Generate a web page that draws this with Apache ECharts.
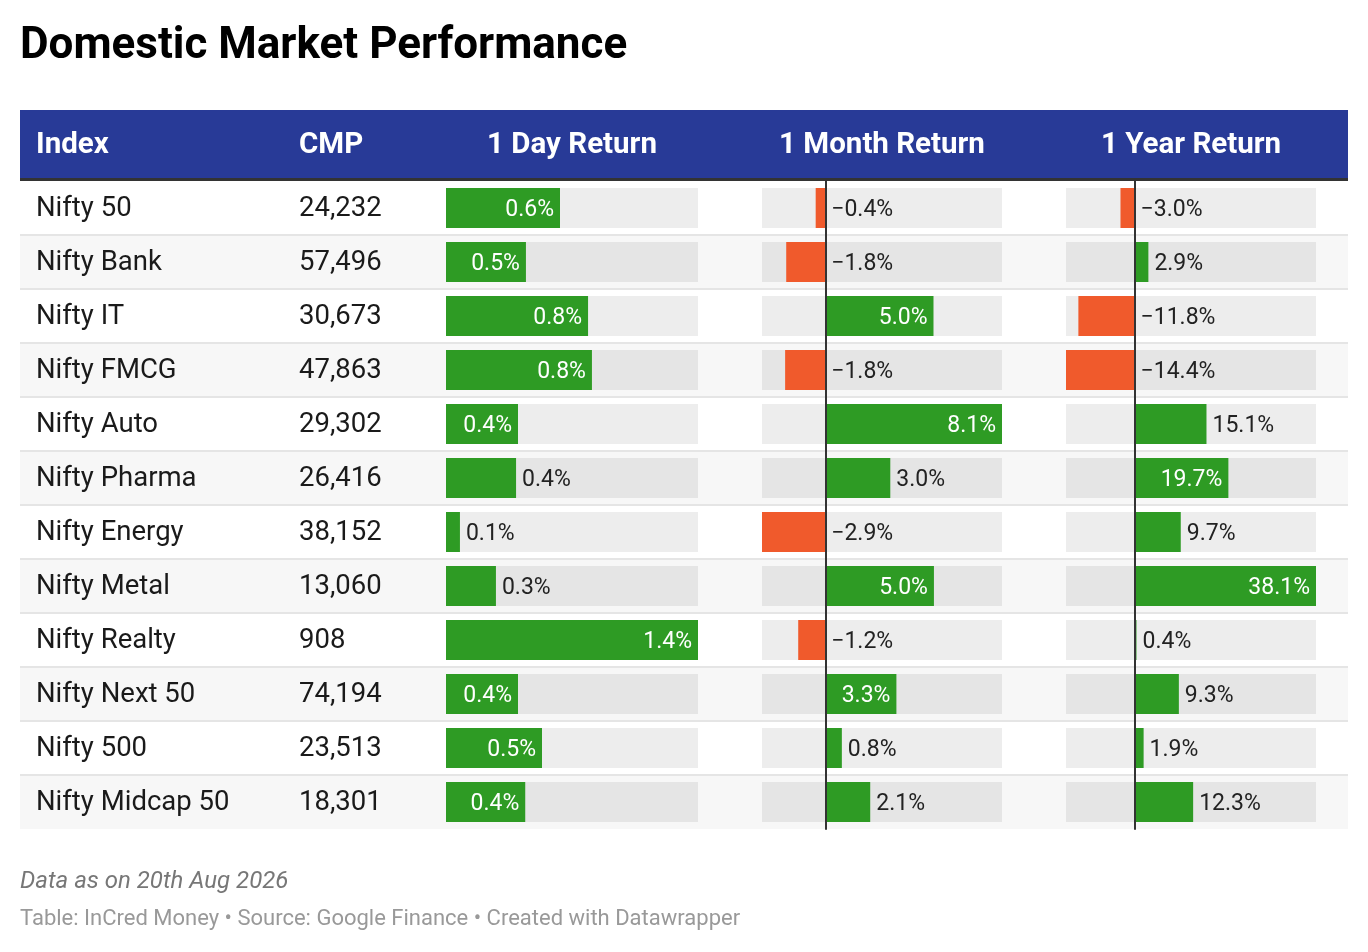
<!DOCTYPE html>
<html>
<head>
<meta charset="utf-8">
<script src="https://cdn.jsdelivr.net/npm/echarts@6/dist/echarts.min.js"></script>
<style>
  html, body { margin: 0; padding: 0; background: #fff; }
  #main { width: 1368px; height: 952px; }
</style>
</head>
<body>
<div id="main"></div>
<script>
var indices = ['Nifty 50', 'Nifty Bank', 'Nifty IT', 'Nifty FMCG', 'Nifty Auto', 'Nifty Pharma',
  'Nifty Energy', 'Nifty Metal', 'Nifty Realty', 'Nifty Next 50', 'Nifty 500', 'Nifty Midcap 50'];
var cmp = ['24,232', '57,496', '30,673', '47,863', '29,302', '26,416', '38,152', '13,060', '908', '74,194', '23,513', '18,301'];
var dayReturn = [0.646, 0.453, 0.805, 0.827, 0.408, 0.397, 0.079, 0.283, 1.428, 0.408, 0.544, 0.449];
var monthReturn = [-0.44, -1.79, 4.96, -1.84, 8.1, 2.98, -2.9, 4.98, -1.24, 3.26, 0.76, 2.06];
var yearReturn = [-2.96, 2.9, -11.8, -14.4, 15.1, 19.7, 9.7, 38.1, 0.4, 9.3, 1.9, 12.3];

var GREEN = '#2e9b24', ORANGE = '#f05a2c';
var TOP = 181, ROW = 54, FONT = 'Roboto';

// column geometry: left, width, min, max
var cols = [
  { left: 446, width: 252, min: 0, max: 1.428, data: dayReturn, zero: false },
  { left: 762, width: 240, min: -2.9, max: 8.1, data: monthReturn, zero: true },
  { left: 1066, width: 250, min: -14.4, max: 38.1, data: yearReturn, zero: true }
];

function fmt(v) {
  return (v.toFixed(1) + '%').replace('-', '\u2212');
}

var graphics = [];
// row stripes and separators
indices.forEach(function (name, i) {
  var y = TOP + i * ROW;
  graphics.push({ type: 'rect', shape: { x: 20, y: y, width: 1328, height: ROW },
    style: { fill: i % 2 ? '#f7f7f7' : '#ffffff' }, z: -10 });
  if (i > 0) {
    graphics.push({ type: 'rect', shape: { x: 20, y: y - 1, width: 1328, height: 2 },
      style: { fill: '#e5e5e5' }, z: -9 });
  }
  graphics.push({ type: 'text', x: 36, y: y + ROW / 2 + 1,
    style: { text: name, font: '27.5px ' + FONT, fill: '#1a1a1a', verticalAlign: 'middle' } });
  graphics.push({ type: 'text', x: 299, y: y + ROW / 2 + 1,
    style: { text: cmp[i], font: '27.5px ' + FONT, fill: '#1a1a1a', verticalAlign: 'middle' } });
});
// header
graphics.push({ type: 'rect', shape: { x: 20, y: 110, width: 1328, height: 69 }, style: { fill: '#283a97' } });
graphics.push({ type: 'rect', shape: { x: 20, y: 178, width: 1328, height: 3 }, style: { fill: '#333333' } });
[['Index', 36, 'left'], ['CMP', 299, 'left'], ['1 Day Return', 572, 'center'],
 ['1 Month Return', 882, 'center'], ['1 Year Return', 1191, 'center']].forEach(function (h) {
  graphics.push({ type: 'text', x: h[1], y: 146,
    style: { text: h[0], font: 'bold 29.5px ' + FONT, fill: '#ffffff', align: h[2], verticalAlign: 'middle' } });
});
// title and footer
graphics.push({ type: 'text', x: 20, y: 47,
  style: { text: 'Domestic Market Performance', font: 'bold 44px ' + FONT, fill: '#000', verticalAlign: 'middle' } });
graphics.push({ type: 'text', x: 20, y: 882,
  style: { text: 'Data as on 20th Aug 2026', font: 'italic 24px ' + FONT, fill: '#777', verticalAlign: 'middle' } });
graphics.push({ type: 'text', x: 20, y: 919,
  style: { text: 'Table: InCred Money \u2022 Source: Google Finance \u2022 Created with Datawrapper',
    font: '22px ' + FONT, fill: '#999', verticalAlign: 'middle' } });

var grids = [], xAxes = [], yAxes = [], series = [];
cols.forEach(function (c, k) {
  grids.push({ left: c.left, top: TOP, width: c.width, height: ROW * indices.length });
  xAxes.push({ type: 'value', gridIndex: k, min: c.min, max: c.max, show: false });
  yAxes.push({ type: 'category', gridIndex: k, data: indices, inverse: true,
    axisTick: { show: false }, axisLabel: { show: false }, splitLine: { show: false },
    axisLine: { show: c.zero, onZero: true, lineStyle: { color: '#333', width: 2 } }, z: 5 });
  var scale = c.width / (c.max - c.min);
  series.push({
    type: 'bar', xAxisIndex: k, yAxisIndex: k, barWidth: 40, silent: true,
    showBackground: true, backgroundStyle: { color: 'rgba(0,0,0,0.07)' },
    data: c.data.map(function (v) {
      var txt = fmt(v);
      var px = Math.abs(v) * scale;
      var inside = v > 0 && px >= txt.length * 11 + 27;
      return {
        value: v,
        itemStyle: { color: v < 0 ? ORANGE : GREEN },
        label: {
          show: true, formatter: txt, fontFamily: FONT, fontSize: 23, offset: [0, 2],
          position: inside ? 'insideRight' : 'right', distance: inside ? 6 : 6,
          color: inside ? '#ffffff' : '#222222'
        }
      };
    })
  });
});

var chart = echarts.init(document.getElementById('main'));
chart.setOption({
  animation: false,
  grid: grids, xAxis: xAxes, yAxis: yAxes, series: series,
  graphic: graphics
});
</script>
</body>
</html>
